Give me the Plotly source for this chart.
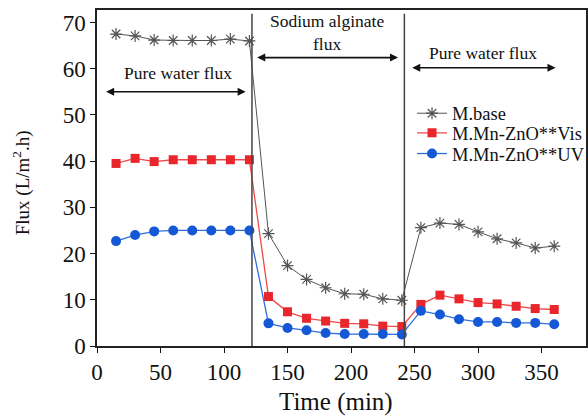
import plotly.graph_objects as go

time_min = [15, 30, 45, 60, 75, 90, 105, 120,
            135, 150, 165, 180, 195, 210, 225, 240,
            255, 270, 285, 300, 315, 330, 345, 360]
m_base = [67.5, 67.1, 66.2, 66.1, 66.1, 66.1, 66.4, 66.0,
          24.3, 17.4, 14.4, 12.6, 11.3, 11.2, 10.2, 9.9,
          25.6, 26.6, 26.3, 24.7, 23.2, 22.3, 21.2, 21.6]
m_vis = [39.5, 40.6, 39.9, 40.3, 40.3, 40.3, 40.3, 40.3,
         10.7, 7.4, 6.0, 5.4, 4.9, 4.8, 4.3, 4.2,
         9.0, 11.0, 10.2, 9.4, 9.1, 8.6, 8.1, 7.9]
m_uv = [22.7, 24.0, 24.8, 25.0, 25.0, 25.0, 25.0, 25.0,
        4.9, 3.9, 3.4, 2.8, 2.6, 2.6, 2.6, 2.5,
        7.6, 6.8, 5.8, 5.2, 5.2, 5.0, 5.0, 4.7]
series_names = ["M.base", "M.Mn-ZnO**Vis", "M.Mn-ZnO**UV"]
x_ticks = [0, 50, 100, 150, 200, 250, 300, 350]
y_ticks = [0, 10, 20, 30, 40, 50, 60, 70]
phase_dividers = [122, 242]
x_title = "Time (min)"
y_title = "Flux (L/m<sup>2</sup>.h)"

FONT = "Liberation Serif"
INK = "#111111"

fig = go.Figure()
fig.add_trace(go.Scatter(
    x=time_min, y=m_base, name=series_names[0], mode="lines+markers", legend="legend",
    line=dict(color="#555555", width=1),
    marker=dict(symbol="asterisk-open", size=10, line=dict(color="#222222", width=1.2))))
fig.add_trace(go.Scatter(
    x=time_min, y=m_vis, name=series_names[1], mode="lines+markers", legend="legend2",
    line=dict(color="#f04848", width=1.3),
    marker=dict(symbol="square", size=9, color="#e8262b")))
fig.add_trace(go.Scatter(
    x=time_min, y=m_uv, name=series_names[2], mode="lines+markers", legend="legend3",
    line=dict(color="#2f6fe0", width=1.3),
    marker=dict(symbol="circle", size=10, color="#1558d6")))

for xv in phase_dividers:
    fig.add_shape(type="line", xref="x", yref="y", x0=xv, x1=xv, y0=0, y1=71.9,
                  line=dict(color="#444444", width=1.5))

arrows = [(6, 117, 55.0), (125, 237, 62.4), (247, 361, 60.2)]
for x0, x1, yv in arrows:
    fig.add_annotation(x=x1, y=yv, ax=x0, ay=yv, xref="x", yref="y", axref="x", ayref="y",
                       text="", showarrow=True, arrowhead=2, startarrowhead=2,
                       arrowside="end+start", arrowsize=1, arrowwidth=1.6, arrowcolor=INK)

texts = [("Pure water flux", 64, 59.0), ("Sodium alginate<br>flux", 181, 67.8),
         ("Pure water flux", 304, 63.3)]
for t, xv, yv in texts:
    fig.add_annotation(x=xv, y=yv, xref="x", yref="y", text=t, showarrow=False,
                       font=dict(family=FONT, size=17.5, color=INK))

# axis titles
fig.add_annotation(x=0.489, y=-0.167, xref="paper", yref="paper", text=x_title,
                   showarrow=False, xanchor="center", yanchor="middle",
                   font=dict(family=FONT, size=25, color=INK))
fig.add_annotation(x=-0.155, y=0.485, xref="paper", yref="paper", text=y_title,
                   showarrow=False, textangle=-90, xanchor="center", yanchor="middle",
                   font=dict(family=FONT, size=19, color=INK))

def leg(yc):
    return dict(x=0.7007, y=yc, xref="container", yref="container",
                xanchor="left", yanchor="middle",
                font=dict(family=FONT, size=18.5, color=INK),
                bgcolor="rgba(0,0,0,0)", itemwidth=30)

fig.update_layout(
    width=588, height=418,
    margin=dict(l=97, r=2, t=10, b=72, autoexpand=False),
    paper_bgcolor="white", plot_bgcolor="white",
    font=dict(family=FONT, color=INK),
    showlegend=True,
    legend=leg(0.728), legend2=leg(0.681), legend3=leg(0.6316),
    xaxis=dict(range=[0, 385], tickvals=x_ticks, ticks="outside", ticklen=5,
               tickcolor=INK, showgrid=False, zeroline=False, automargin=False,
               showline=True, linecolor="#222222", linewidth=1.5, mirror=True,
               tickfont=dict(family=FONT, size=23, color=INK)),
    yaxis=dict(range=[0, 72.7], tickvals=y_ticks, ticks="outside", ticklen=5,
               tickcolor=INK, showgrid=False, zeroline=False, automargin=False,
               showline=True, linecolor="#222222", linewidth=1.5, mirror=True,
               tickfont=dict(family=FONT, size=23, color=INK)),
)

fig.write_html("out.html")
